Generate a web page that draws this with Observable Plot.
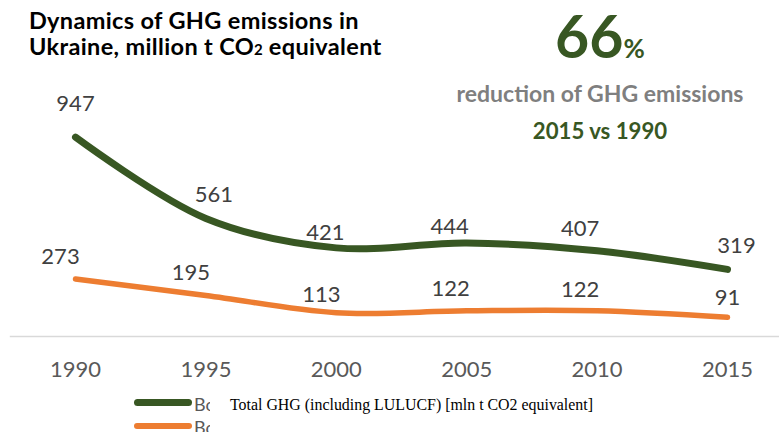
<!DOCTYPE html>
<html>
<head>
<meta charset="utf-8">
<script src="https://cdn.jsdelivr.net/npm/d3@7"></script>
<script src="https://cdn.jsdelivr.net/npm/@observablehq/plot@0.6"></script>
<style>
  body { margin: 0; background: #fff; }
  #wrap { position: relative; width: 779px; height: 432px; overflow: hidden; font-family: Lato, "Open Sans", sans-serif; }
  #chart { position: absolute; left: 0; top: 0; }
  .abs { position: absolute; white-space: nowrap; }
  #title { left: 29px; top: 7px; font-weight: 700; font-size: 23.5px; letter-spacing: 0.35px; line-height: 26px; color: #000; }
  #title sub { font-size: 15px; vertical-align: baseline; letter-spacing: 0; }
  #big { left: 555px; top: 0px; font-weight: 700; font-size: 59px; line-height: normal; color: #385723; }
  #big span { font-size: 26px; }
  #sub1 { left: 400px; width: 400px; top: 79px; font-weight: 700; font-size: 23px; color: #7f7f7f; text-align: center; }
  #sub2 { left: 400px; width: 400px; top: 117px; font-weight: 700; font-size: 22.2px; color: #385723; text-align: center; }
  .sw { position: absolute; left: 134px; width: 58px; border-radius: 4px; }
  .bo { position: absolute; left: 194px; width: 16px; overflow: hidden; font-size: 18px; color: #595959; line-height: 20px; }
  #serif { left: 230px; top: 396px; font-family: "Liberation Serif", "Times New Roman", serif; font-size: 15.9px; color: #000; }
</style>
</head>
<body>
<div id="wrap">
  <div id="chart"></div>
  <div class="abs" id="title">Dynamics of GHG emissions in<br>Ukraine, million t CO<sub>2</sub> equivalent</div>
  <div class="abs" id="big">66<span>%</span></div>
  <div class="abs" id="sub1">reduction of GHG emissions</div>
  <div class="abs" id="sub2">2015 vs 1990</div>
  <div class="sw" style="top:399px;height:7px;background:#385723;"></div>
  <div class="bo" style="top:394px;">Bo</div>
  <div class="sw" style="top:423px;height:6px;background:#ed7d31;"></div>
  <div class="bo" style="top:417px;">Bo</div>
  <div class="abs" id="serif">Total GHG (including LULUCF) [mln t CO2 equivalent]</div>
</div>
<script>
// Data
const years = [1990, 1995, 2000, 2005, 2010, 2015];
const totalGHG = [947, 561, 421, 444, 407, 319];
const secondSeries = [273, 195, 113, 122, 122, 91];
const tickYears = [1990, 1995, 2000, 2005, 2010, 2015];

const green = "#385723";
const orange = "#ed7d31";

// label placement styling (offsets in px, as the source chart places them)
const offA = {1990: [0, -33], 1995: [8, -23], 2000: [-11, -15], 2005: [-17, -16], 2010: [-17, -22], 2015: [9, -23]};
const offB = {1990: [-15, -22], 1995: [-15, -22], 2000: [-15, -18], 2005: [-16, -22], 2010: [-17, -21], 2015: [0, -19]};

const dataA = years.map((y, i) => ({year: y, value: totalGHG[i]}));
const dataB = years.map((y, i) => ({year: y, value: secondSeries[i]}));

const labels = (data, off) => data.map(d => Plot.text([d], {
  x: "year", y: "value", text: r => String(r.value),
  dx: off[d.year][0], dy: off[d.year][1], fontSize: 22, fill: "#404040"
}));

const plot = Plot.plot({
  width: 779,
  height: 432,
  marginLeft: 75,
  marginRight: 52,
  marginTop: 125.5,
  marginBottom: 96,
  x: {domain: [1990, 2015], axis: null},
  y: {domain: [0, 1000], axis: null},
  style: {fontFamily: "Lato, 'Open Sans', sans-serif", background: "transparent", overflow: "visible"},
  marks: [
    Plot.ruleY([0], {x1: 1987.5, x2: 2017, stroke: "#d9d9d9", strokeWidth: 1.5}),
    Plot.line(dataA, {x: "year", y: "value", stroke: green, strokeWidth: 7, curve: "catmull-rom", strokeLinecap: "round"}),
    Plot.line(dataB, {x: "year", y: "value", stroke: orange, strokeWidth: 5.5, curve: "catmull-rom", strokeLinecap: "round"}),
    ...labels(dataA, offA),
    ...labels(dataB, offB),
    Plot.axisX(tickYears, {tickSize: 0, tickPadding: 25, fontSize: 22, color: "#595959", tickFormat: d => String(d), label: null})
  ]
});
document.getElementById("chart").appendChild(plot);
</script>
</body>
</html>
